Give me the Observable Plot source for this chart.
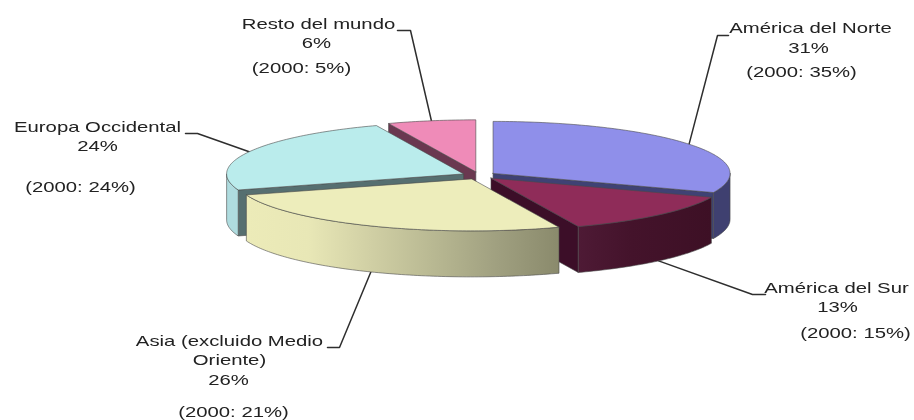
<!DOCTYPE html>
<html><head><meta charset="utf-8">
<style>html,body{margin:0;padding:0;background:#fff}svg{display:block}</style>
<script src="https://cdn.jsdelivr.net/npm/d3@7"></script>
<script src="https://cdn.jsdelivr.net/npm/@observablehq/plot@0.6"></script>
</head><body><div id="chart"></div>
<script>
// Data
const categories = ["América del Norte", "América del Sur", "Asia (excluido Medio Oriente)", "Europa Occidental", "Resto del mundo"];
const shares = [31, 13, 26, 24, 6];
const shares2000 = [35, 15, 21, 24, 5];

// Styles
const topColors = ["#8f8fea", "#8f2c59", "#ededbb", "#baecec", "#ef8bb8"];
const faceColors = ["#3f4274", "#3c0e28", "#8a8a6c", "#566f70", "#6a3850"];
const wallStops = [
  [[0, "#3f4070"], [1, "#3f4070"]],
  [[0, "#4e1a35"], [0.4, "#44132b"], [1, "#3d1025"]],
  [[0, "#ecebb8"], [0.2, "#e8e7b6"], [0.4, "#d0cfa4"], [0.6, "#b8b892"], [0.8, "#a0a080"], [1, "#8a8a6c"]],
  [[0, "#afdcdf"], [1, "#afdcdf"]],
  [[0, "#6a3850"], [1, "#6a3850"]]
];

// Pie geometry
const cx = 478.5, cy = 175, rx = 237, ry = 52, depth = 46, explode = 17;
const rad = d => d * Math.PI / 180;
const total = d3.sum(shares);
let acc = 0;
const slices = shares.map((v, i) => {
  const t0 = acc / total * 360; acc += v;
  const t1 = acc / total * 360, mid = (t0 + t1) / 2;
  return {i, t0, t1, mid,
    ax: cx + explode * Math.sin(rad(mid)),
    ay: cy - explode * (ry / rx) * Math.cos(rad(mid))};
});
const rim = (s, t, d = 0) => ({x: s.ax + rx * Math.sin(rad(t)), y: s.ay - ry * Math.cos(rad(t)) + d});
const arc = (s, a, b, d = 0) => {
  const n = Math.max(2, Math.ceil(Math.abs(b - a)));
  return d3.range(n + 1).map(k => rim(s, a + (b - a) * k / n, d));
};
const poly = (pts, fill, stroke = "#4a4a4a", strokeWidth = 0.6) =>
  Plot.line([...pts, pts[0]], {x: "x", y: "y", fill, stroke, strokeWidth, curve: "linear"});

// Wall gradients, spanning each slice's outer wall
const wallRange = s => [Math.max(s.t0, 90), Math.min(s.t1, 270)];
const gradientDefs = () => {
  const defs = d3.create("svg:defs");
  for (const s of slices) {
    const [a, b] = wallRange(s);
    if (b <= a) continue;
    const g = defs.append("linearGradient").attr("id", `wall${s.i}`)
      .attr("gradientUnits", "userSpaceOnUse")
      .attr("x1", Math.min(rim(s, a).x, rim(s, b).x)).attr("y1", 0)
      .attr("x2", Math.max(rim(s, a).x, rim(s, b).x)).attr("y2", 0);
    for (const [o, c] of wallStops[s.i]) g.append("stop").attr("offset", o).attr("stop-color", c);
  }
  return defs.node();
};

function sliceMarks(s) {
  const marks = [];
  const apex = {x: s.ax, y: s.ay}, apexD = {x: s.ax, y: s.ay + depth};
  // radial cut faces that look towards the viewer
  for (const [t, side] of [[s.t0, -1], [s.t1, 1]]) {
    if (-Math.cos(rad(t + side * 90)) > 0.001) {
      marks.push(poly([apex, rim(s, t), rim(s, t, depth), apexD], faceColors[s.i]));
    }
  }
  // outer wall, front half only
  const [a, b] = wallRange(s);
  if (b > a) {
    marks.push(poly([...arc(s, a, b), ...arc(s, b, a, depth)], `url(#wall${s.i})`));
  }
  // top
  marks.push(poly([apex, ...arc(s, s.t0, s.t1)], topColors[s.i]));
  return marks;
}

// back to front
const paintOrder = [4, 0, 3, 1, 2];

// Label layout: line centres per category
const labelLines = [
  () => [[categories[0], 810, 28], [shares[0] + "%", 808, 48], [`(2000: ${shares2000[0]}%)`, 801, 72]],
  () => [[categories[1], 836, 288], [shares[1] + "%", 837, 307], [`(2000: ${shares2000[1]}%)`, 855, 333]],
  () => [["Asia (excluido Medio", 229, 341], ["Oriente)", 229, 360], [shares[2] + "%", 228, 380], [`(2000: ${shares2000[2]}%)`, 233, 412]],
  () => [[categories[3], 97, 127], [shares[3] + "%", 97, 146], [`(2000: ${shares2000[3]}%)`, 80, 187]],
  () => [[categories[4], 318, 24], [shares[4] + "%", 316, 43], [`(2000: ${shares2000[4]}%)`, 301, 68]]
];
const textRows = labelLines.flatMap(f => f().map(([text, x, y]) => ({text, x, y})));

// Leader elbows: [label end, elbow]
const leaderElbows = [
  [[728, 35], [717, 35]],
  [[765, 294], [752, 294]],
  [[327, 347], [339, 347]],
  [[185, 133], [197, 133]],
  [[397, 30], [410, 30]]
];
const leaders = slices.map(s => {
  const frontal = Math.cos(rad(s.mid)) < 0;
  const end = rim(s, s.mid, frontal ? depth : 0);
  const [p, q] = leaderElbows[s.i];
  return [{x: p[0], y: p[1]}, {x: q[0], y: q[1]}, end];
});

const chart = Plot.plot({
  width: 914, height: 420, margin: 0,
  x: {domain: [0, 914], axis: null},
  y: {domain: [420, 0], axis: null},
  style: {fontFamily: "'Liberation Sans', Arial, sans-serif", background: "#fff", filter: "blur(0.4px)"},
  marks: [
    gradientDefs,
    ...leaders.map(l => Plot.line(l, {x: "x", y: "y", stroke: "#2e2e2e", strokeWidth: 1.5, curve: "linear"})),
    ...paintOrder.flatMap(i => sliceMarks(slices[i])),
    Plot.text(textRows, {x: "x", y: "y", text: "text", fontSize: 14.5, fill: "#222", textAnchor: "middle", lineAnchor: "middle"})
  ]
});
document.getElementById("chart").append(chart);
// widen the glyphs the way the reference's stretched labels are
chart.querySelectorAll("text").forEach(t => {
  t.setAttribute("textLength", t.getComputedTextLength() * 1.4);
  t.setAttribute("lengthAdjust", "spacingAndGlyphs");
});
</script></body></html>
